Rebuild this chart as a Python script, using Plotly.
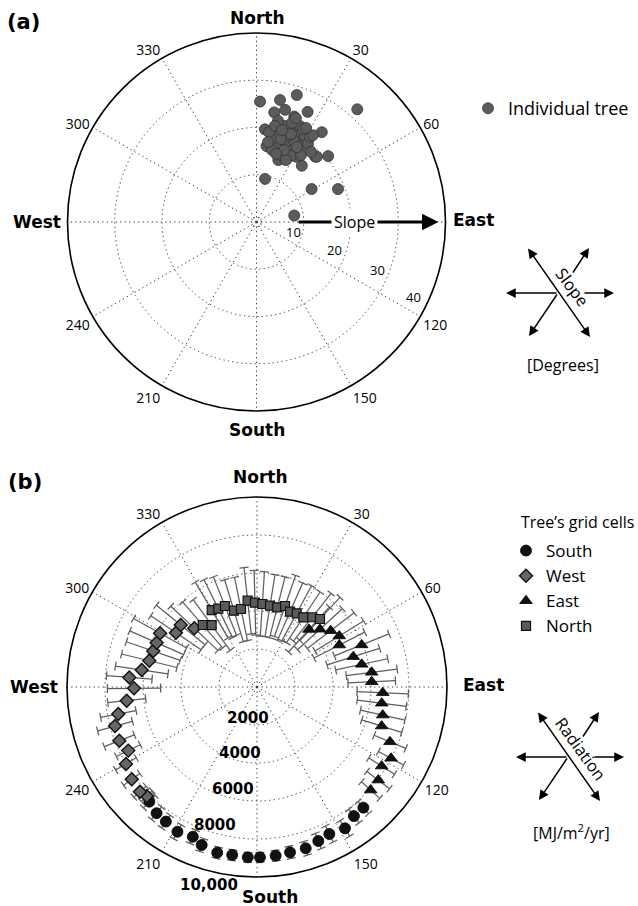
import math
import plotly.graph_objects as go

W, H = 638, 906

# ---------------- Panel (a): individual trees ----------------
# aspect in degrees clockwise from north, slope in degrees
tree_aspect = [
    17.6, 10.9, 1.7, 41.8, 9.2, 14.3, 24.9, 19.7, 36.0, 5.2, 7.6, 41.9, 42.8,
    47.4, 38.8, 19.4, 11.2, 59.1, 68.0, 80.2, 31.6,
    22.2, 24.4, 19.0, 25.7, 18.5, 28.0, 15.5, 21.1, 23.6, 24.8, 19.0, 30.9,
    14.7, 29.4, 16.5, 29.4, 11.1, 27.6, 13.7, 24.4, 33.4, 12.1, 22.2, 19.7,
    32.2, 7.9, 33.6, 12.0, 20.6, 24.8, 20.7, 28.4, 16.4, 26.6, 10.9, 25.4,
    37.9, 8.2, 20.8, 33.0, 21.4, 20.9, 16.0, 27.8, 15.5,
]
tree_slope = [
    28.2, 26.3, 25.5, 32.0, 23.5, 24.5, 25.7, 23.7, 23.5, 19.7, 16.2, 18.6, 18.8,
    20.6, 15.3, 13.9, 9.3, 13.6, 18.6, 8.1, 16.2,
    18.7, 19.7, 17.9, 17.8, 19.6, 19.2, 18.7, 20.9, 16.6, 21.0, 16.6, 18.7,
    17.1, 17.0, 21.2, 20.9, 18.1, 15.8, 20.0, 22.3, 19.8, 15.6, 14.9, 22.3,
    21.3, 19.2, 17.0, 21.9, 18.3, 18.9, 19.5, 18.0, 18.3, 22.0, 20.7, 14.5,
    18.8, 17.1, 23.5, 21.9, 20.0, 16.3, 15.0, 22.5, 20.2,
]
slope_ticks = [10, 20, 30, 40]

# ---------------- Panel (b): radiation of the tree's grid cells ----------------
south_aspect = [138.6, 143.1, 148.1, 153.8, 158.3, 163.2, 168.7, 173.7, 179.0,
                183.1, 188.4, 193.5, 199.3, 203.2, 208.8, 214.1, 218.5, 223.2]
south_rad = [8465, 8495, 8762, 8622, 8724, 8868, 8872, 8932, 8965,
             8977, 8937, 8968, 8811, 8575, 8694, 8555, 8489, 8280]
south_err = [420, 450, 480, 470, 430, 370, 330, 280, 250,
             250, 280, 300, 350, 380, 420, 400, 420, 450]

west_aspect = [225.3, 228.2, 233.6, 239.6, 243.7, 248.7, 254.6, 259.0, 264.0, 269.4,
               274.3, 278.4, 283.7, 289.1, 293.8, 299.0, 303.8, 309.1, 313.1]
west_rad = [8161, 8264, 8191, 7997, 7557, 7778, 7751, 7437, 6895, 6474,
            6739, 6134, 5835, 5777, 5770, 5835, 5133, 5174, 4520]
west_err = [400, 430, 530, 630, 700, 850, 950, 950, 1000, 1400,
            1200, 1400, 1500, 1500, 1550, 1600, 1600, 1650, 1700]

east_aspect = [42.1, 47.5, 52.6, 58.2, 63.0, 68.1, 72.5, 77.8, 82.7, 87.4,
               92.6, 97.4, 102.6, 107.4, 112.4, 118.0, 122.4, 127.5, 132.2]
east_rad = [4080, 4496, 4881, 5096, 4863, 5937, 5314, 5638, 6086, 6043,
            6623, 6620, 6779, 6876, 7569, 7989, 7769, 8045, 8074]
east_err = [1600, 1600, 1550, 1500, 1500, 1550, 1450, 1400, 1350, 1250,
            1350, 1300, 1200, 1100, 900, 750, 800, 750, 650]

north_aspect = [318.8, 323.8, 329.5, 333.7, 338.4, 343.2, 348.4, 353.8, 358.6,
                3.7, 9.1, 14.3, 19.1, 23.7, 28.3, 33.6, 38.4, 42.8]
north_rad = [4337, 4042, 4700, 4597, 4584, 4195, 4191, 4568, 4438,
             4378, 4333, 4328, 4511, 4327, 4405, 4404, 4683, 4879]
north_err = [1600, 1650, 1700, 1700, 1650, 1700, 1700, 1750, 1700,
             1700, 1650, 1650, 1700, 1650, 1650, 1600, 1600, 1550]

rad_ticks = [2000, 4000, 6000, 8000, 10000]
rad_tick_text = ["2000", "4000", "6000", "8000", "10,000"]

compass_vals = list(range(0, 360, 30))
compass_text = ["", "30", "60", "", "120", "150", "", "210", "240", "", "300", "330"]

# ---------------- geometry of the two polar panels (pixels) ----------------
GA = dict(cx=256.5, cy=222.0, R=189.0, rmax=40.0)
GB = dict(cx=257.0, cy=687.0, R=190.0, rmax=10000.0)


def domain(g):
    return dict(x=[(g["cx"] - g["R"]) / W, (g["cx"] + g["R"]) / W],
                y=[1 - (g["cy"] + g["R"]) / H, 1 - (g["cy"] - g["R"]) / H])


def pol_px(g, r_px, az):
    a = math.radians(az)
    return g["cx"] + r_px * math.sin(a), g["cy"] - r_px * math.cos(a)


def paper(px, py):
    return px / W, 1 - py / H


def error_bars(theta, r, err, g, cap_px=4.5):
    """Radial error bars with short perpendicular caps, as one line trace."""
    rr, tt = [], []
    for th, rv, e in zip(theta, r, err):
        lo, hi = rv - e, rv + e
        rr += [lo, hi, None]
        tt += [th, th, None]
        for end in (lo, hi):
            end_px = end / g["rmax"] * g["R"]
            d = math.degrees(math.atan2(cap_px, end_px))
            rc = end / math.cos(math.radians(d))
            rr += [rc, rc, None]
            tt += [th - d, th + d, None]
    return rr, tt


fig = go.Figure()

# ---- (a) trees
fig.add_trace(go.Scatterpolar(
    r=tree_slope, theta=tree_aspect, mode="markers", name="Individual tree",
    subplot="polar", legend="legend",
    marker=dict(size=11, color="#5b5b5b", line=dict(color="#353535", width=0.8)),
))

# ---- (b) error bars first, markers on top
ERR_COLOR = "#5e5e5e"
for th, rv, ev in [(south_aspect, south_rad, south_err),
                   (west_aspect, west_rad, west_err),
                   (east_aspect, east_rad, east_err),
                   (north_aspect, north_rad, north_err)]:
    rr, tt = error_bars(th, rv, ev, GB)
    fig.add_trace(go.Scatterpolar(
        r=rr, theta=tt, mode="lines", subplot="polar2", showlegend=False,
        line=dict(color=ERR_COLOR, width=1.25), hoverinfo="skip",
    ))

series = [
    ("South", south_aspect, south_rad, dict(symbol="circle", size=11, color="#111111",
                                             line=dict(color="#000000", width=0.8))),
    ("West", west_aspect, west_rad, dict(symbol="diamond", size=10, color="#666666",
                                          line=dict(color="#111111", width=1.4))),
    ("East", east_aspect, east_rad, dict(symbol="triangle-up", size=11, color="#111111",
                                          line=dict(color="#000000", width=0.8))),
    ("North", north_aspect, north_rad, dict(symbol="square", size=9, color="#5a5a5a",
                                             line=dict(color="#111111", width=1.2))),
]
for name, th, rv, mk in series:
    fig.add_trace(go.Scatterpolar(
        r=rv, theta=th, mode="markers", name=name, subplot="polar2",
        legend="legend2", marker=mk,
    ))

GRID = dict(gridcolor="#3c3c3c", gridwidth=1, griddash="1.3px,3.2px")


def angular():
    return dict(rotation=90, direction="clockwise", tickmode="array",
                tickvals=compass_vals, ticktext=compass_text, ticks="",
                tickfont=dict(family="Open Sans", size=14, color="black"),
                showline=True, linecolor="black", linewidth=1.6, **GRID)


fig.update_layout(
    width=W, height=H, margin=dict(l=0, r=0, t=0, b=0),
    paper_bgcolor="white", plot_bgcolor="white",
    font=dict(family="Open Sans", color="black"),
    polar=dict(domain=domain(GA), bgcolor="white",
               angularaxis=angular(),
               radialaxis=dict(range=[0, 40], tickvals=[1] + slope_ticks[:-1],
                               showticklabels=False, ticks="", showline=False, **GRID)),
    polar2=dict(domain=domain(GB), bgcolor="white",
                angularaxis=angular(),
                radialaxis=dict(range=[0, 10000], tickvals=rad_ticks[:-1],
                                showticklabels=False, ticks="", showline=False, **GRID)),
    legend=dict(x=468 / W, y=1 - 90 / H, xanchor="left", yanchor="top",
                bgcolor="rgba(0,0,0,0)", font=dict(family="Open Sans", size=18)),
    legend2=dict(x=506 / W, y=1 - 533 / H, xanchor="left", yanchor="top",
                 bgcolor="rgba(0,0,0,0)", font=dict(family="Open Sans", size=17)),
    showlegend=True,
)

ann = []


def text_at(px, py, text, size, family="Open Sans", angle=0, bold=False):
    x, y = paper(px, py)
    ann.append(dict(x=x, y=y, xref="paper", yref="paper", showarrow=False,
                    text=f"<b>{text}</b>" if bold else text, textangle=angle,
                    xanchor="center", yanchor="middle",
                    font=dict(family=family, size=size, color="black")))


def arrow(tail, head, width=1.5, size=1.3, both=False):
    x, y = paper(*head)
    ann.append(dict(x=x, y=y, xref="paper", yref="paper", text="", showarrow=True,
                    ax=tail[0] - head[0], ay=tail[1] - head[1],
                    axref="pixel", ayref="pixel",
                    arrowhead=2, arrowsize=size, arrowwidth=width,
                    arrowcolor="black", arrowside="end+start" if both else "end",
                    standoff=0, startstandoff=0))


# panel letters
text_at(23, 22, "(a)", 21, "DejaVu Sans", bold=True)
text_at(25, 482, "(b)", 21, "DejaVu Sans", bold=True)

# compass directions
for lbl, px, py in [("North", 257, 17.5), ("East", 473, 220), ("West", 37, 222), ("South", 257, 430)]:
    text_at(px, py, lbl, 17, "DejaVu Sans", bold=True)
for lbl, px, py in [("North", 260, 477), ("East", 483, 685), ("West", 33.5, 687), ("South", 270, 897)]:
    text_at(px, py, lbl, 17, "DejaVu Sans", bold=True)

# radial tick labels, panel (a): (value, distance from centre in px, bearing)
for v, rpx, az in zip(slope_ticks, [38, 83, 130, 174], [106, 109.5, 111.5, 115.5]):
    text_at(*pol_px(GA, rpx, az), str(v), 13)
# radial tick labels, panel (b)
for t, rpx, az in zip(rad_tick_text, [32, 68, 105, 144.5, 203.5], [196, 194.5, 193, 197, 193.5]):
    text_at(*pol_px(GB, rpx, az), t, 15, "DejaVu Sans", bold=True)

# slope direction arrow across panel (a)
a_tail = pol_px(GA, 40.5, 90)
a_head = pol_px(GA, 182, 90)
arrow(a_tail, a_head, width=3, size=1.1)
sx, sy = pol_px(GA, 98, 90)
x, y = paper(sx, sy)
ann.append(dict(x=x, y=y, xref="paper", yref="paper", showarrow=False, text="Slope",
                bgcolor="white", borderpad=2, xanchor="center", yanchor="middle",
                font=dict(family="Open Sans", size=16, color="black")))

# direction glyphs beside each panel
def glyph(cx, cy, word, angle, txt_dx, txt_dy):
    arrow((cx - 31, cy - 46), (cx + 32, cy + 44), both=True)
    arrow((cx + 14, cy - 19), (cx + 31, cy - 45))
    arrow((cx, cy), (cx - 29, cy + 43))
    arrow((cx, cy), (cx - 52, cy))
    arrow((cx + 25, cy), (cx + 56, cy))
    text_at(cx + txt_dx, cy + txt_dy, word, 16.5, angle=angle)


glyph(558, 293, "Slope", 53, 14, -6)
text_at(563, 365, "[Degrees]", 16)
glyph(568, 757, "Radiation", 54, 13, -9)
text_at(571, 832, "[MJ/m<sup>2</sup>/yr]", 16)

# legend heading for panel (b)
text_at(577, 522, "Tree’s grid cells", 16)

fig.update_layout(annotations=ann)
fig.write_html("out.html")
